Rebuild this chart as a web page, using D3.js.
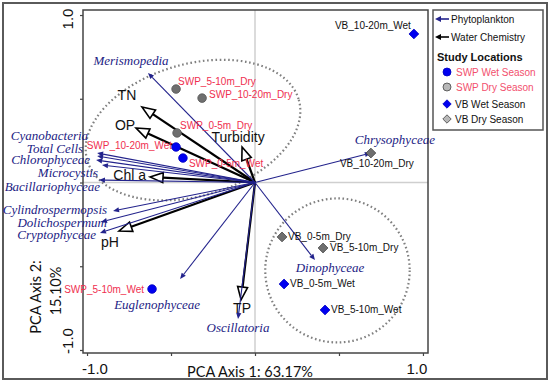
<!DOCTYPE html>
<html>
<head>
<meta charset="utf-8">
<script src="https://cdn.jsdelivr.net/npm/d3@7"></script>
<style>
  html, body { margin: 0; padding: 0; background: #fff; }
  svg { display: block; }
</style>
</head>
<body>
<svg id="chart" width="550" height="384"></svg>
<script>
// ---------------- DATA ----------------
// Phytoplankton loading vectors (PCA axis 1, axis 2)
const speciesNames = ["Merismopedia", "Cyanobacteria", "Total Cells", "Chlorophyceae", "Microcystis",
  "Bacillariophyceae", "Cylindrospermopsis", "Dolichospermum", "Cryptophyceae", "Euglenophyceae",
  "Oscillatoria", "Chrysophyceae", "Dinophyceae"];
const speciesPC1 = [-0.637, -0.940, -0.940, -0.946, -0.911, -0.929, -0.845, -0.917, -0.923, -0.446, -0.101, 0.690, 0.357];
const speciesPC2 = [0.654, 0.176, 0.158, 0.134, 0.104, 0.015, -0.170, -0.236, -0.301, -0.576, -0.815, 0.176, -0.463];

// Water chemistry loading vectors
const chemNames = ["TN", "OP", "Turbidity", "Chl a", "pH", "TP"];
const chemPC1 = [-0.673, -0.708, -0.077, -0.625, -0.810, -0.083];
const chemPC2 = [0.451, 0.325, 0.212, 0.033, -0.290, -0.701];

// Site scores
const siteNames = ["SWP_10-20m_Wet", "SWP_0-5m_Wet", "SWP_5-10m_Wet",
  "SWP_5-10m_Dry", "SWP_10-20m_Dry", "SWP_0-5m_Dry",
  "VB_10-20m_Wet", "VB_0-5m_Wet", "VB_5-10m_Wet",
  "VB_10-20m_Dry", "VB_0-5m_Dry", "VB_5-10m_Dry"];
const siteGroup = ["SWP Wet Season", "SWP Wet Season", "SWP Wet Season",
  "SWP Dry Season", "SWP Dry Season", "SWP Dry Season",
  "VB Wet Season", "VB Wet Season", "VB Wet Season",
  "VB Dry Season", "VB Dry Season", "VB Dry Season"];
const sitePC1 = [-0.470, -0.429, -0.613, -0.470, -0.315, -0.464, 0.946, 0.173, 0.417, 0.690, 0.161, 0.405];
const sitePC2 = [0.212, 0.146, -0.636, 0.558, 0.504, 0.296, 0.887, -0.606, -0.761, 0.176, -0.325, -0.391];

// Grouping ellipses (centre, radii in axis units, tilt in degrees)
const ellipseCX = [-0.369, 0.491];
const ellipseCY = [0.313, -0.525];
const ellipseRX = [0.655, 0.430];
const ellipseRY = [0.394, 0.430];
const ellipseTilt = [-16, 0];

// Axes
const axisTicks = [-1, -0.5, 0, 0.5, 1];
const axisTickLabels = ["-1.0", "", "", "", "1.0"];
const xTitle = "PCA Axis 1: 63.17%";
const yTitle = ["PCA Axis 2:", "15.10%"];

const legendArrows = ["Phytoplankton", "Water Chemistry"];
const legendTitle = "Study Locations";
const legendGroups = ["SWP Wet Season", "SWP Dry Season", "VB Wet Season", "VB Dry Season"];

// ---------------- LAYOUT / STYLE ----------------
const NAVY = "#23238c", NAVY_TXT = "#1c1c84", RED = "#ef2f4f", RED_LEG = "#f2506d";
const groupStyle = {
  "SWP Wet Season": {shape: "circle", fill: "#0000f0", stroke: "#0000c0", text: RED, legFill: "#0000f0", legText: RED_LEG},
  "SWP Dry Season": {shape: "circle", fill: "#6f6f6f", stroke: "#555", text: RED, legFill: "#b8b8b8", legText: RED_LEG},
  "VB Wet Season": {shape: "diamond", fill: "#0000f0", stroke: "#0000c0", text: "#111", legFill: "#0000f0", legText: "#111"},
  "VB Dry Season": {shape: "diamond", fill: "#6f6f6f", stroke: "#444", text: "#111", legFill: "#b8b8b8", legText: "#111"}
};
// label offsets (pixels from the mark end)
const speciesLabelPos = {
  "Merismopedia": ["middle", -17, -12], "Cyanobacteria": ["end", -9, -17], "Total Cells": ["end", -14, -7],
  "Chlorophyceae": ["end", -6, 0], "Microcystis": ["end", -4, 8], "Bacillariophyceae": ["end", 1, 7],
  "Cylindrospermopsis": ["end", -6, -1], "Dolichospermum": ["end", 6, 1], "Cryptophyceae": ["end", -4, 2],
  "Euglenophyceae": ["middle", -23, 26], "Oscillatoria": ["middle", 0, 9], "Chrysophyceae": ["middle", 24, -13],
  "Dinophyceae": ["middle", 15, 8]
};
const chemLabelPos = {
  "TN": ["middle", -15, -12], "OP": ["middle", -11, -3], "Turbidity": ["middle", -4, -10],
  "Chl a": ["end", -4, -2], "pH": ["middle", -9, 11], "TP": ["middle", 1, 8]
};
const siteLabelPos = {
  "SWP_10-20m_Wet": ["end", -4, -1], "SWP_0-5m_Wet": ["start", 6, 5], "SWP_5-10m_Wet": ["end", -8, 0],
  "SWP_5-10m_Dry": ["start", 2, -8], "SWP_10-20m_Dry": ["start", 7, -4], "SWP_0-5m_Dry": ["start", 3, -7],
  "VB_10-20m_Wet": ["end", -3, -8], "VB_0-5m_Wet": ["start", 6, 0], "VB_5-10m_Wet": ["start", 6, 0],
  "VB_10-20m_Dry": ["middle", 6, 10], "VB_0-5m_Dry": ["start", 6, 0], "VB_5-10m_Dry": ["start", 7, 0]
};

const plot = {left: 83, right: 428, top: 10, bottom: 353};
const x = d3.scaleLinear().domain([-1.024, 1.030]).range([plot.left, plot.right]);
const y = d3.scaleLinear().domain([-1.018, 1.030]).range([plot.bottom, plot.top]);

const svg = d3.select("#chart");
const SANS = "'Liberation Sans', Arial, sans-serif";
const SERIF = "'Liberation Serif', 'Times New Roman', serif";
const TITLEF = "Lato, 'Open Sans', sans-serif";

// outer frame
svg.append("rect").attr("x", 3).attr("y", 3).attr("width", 544).attr("height", 376)
  .attr("fill", "none").attr("stroke", "#5a5a5a").attr("stroke-width", 2);

// crosshair
svg.append("line").attr("x1", x(0)).attr("x2", x(0)).attr("y1", plot.top).attr("y2", plot.bottom)
  .attr("stroke", "#cfcfcf").attr("stroke-width", 1.5);
svg.append("line").attr("x1", plot.left).attr("x2", plot.right).attr("y1", y(0)).attr("y2", y(0))
  .attr("stroke", "#cfcfcf").attr("stroke-width", 1.5);

// axes
const xAxis = d3.axisBottom(x).tickValues(axisTicks).tickSize(3).tickFormat(() => "");
const yAxis = d3.axisLeft(y).tickValues(axisTicks).tickSize(3).tickFormat(() => "");
const gx = svg.append("g").attr("transform", `translate(0,${plot.bottom})`).call(xAxis);
const gy = svg.append("g").attr("transform", `translate(${plot.left},0)`).call(yAxis);
[gx, gy].forEach(g => {
  g.select(".domain").remove();
  g.selectAll(".tick line").attr("stroke", "#444").attr("stroke-width", 1.2);
});
// plot box
svg.append("rect").attr("x", plot.left).attr("y", plot.top)
  .attr("width", plot.right - plot.left).attr("height", plot.bottom - plot.top)
  .attr("fill", "none").attr("stroke", "#444").attr("stroke-width", 1.5);

// tick labels
const xLabOff = [8, 0, 0, 0, -6];
axisTicks.forEach((t, i) => {
  if (!axisTickLabels[i]) return;
  svg.append("text").attr("x", x(t) + xLabOff[i]).attr("y", 374)
    .attr("text-anchor", "middle").attr("font-family", SANS).attr("font-size", 15).attr("fill", "#111")
    .text(axisTickLabels[i]);
});
const yLabOff = [-9, 0, 0, 0, 4];
axisTicks.forEach((t, i) => {
  if (!axisTickLabels[i]) return;
  const cx = 73 + (i === 0 ? 0 : 0), cy = y(t) + yLabOff[i];
  svg.append("text").attr("transform", `translate(${cx},${cy}) rotate(-90)`)
    .attr("text-anchor", "middle").attr("font-family", SANS).attr("font-size", 15).attr("fill", "#111")
    .text(axisTickLabels[i]);
});

// axis titles
svg.append("text").attr("x", 250).attr("y", 377).attr("text-anchor", "middle")
  .attr("font-family", TITLEF).attr("font-size", 14.5).attr("fill", "#111").text(xTitle);
svg.append("text").attr("transform", `translate(41,297) rotate(-90)`).attr("text-anchor", "middle")
  .attr("font-family", TITLEF).attr("font-size", 14.5).attr("fill", "#111").text(yTitle[0]);
svg.append("text").attr("transform", `translate(61,291) rotate(-90)`).attr("text-anchor", "middle")
  .attr("font-family", TITLEF).attr("font-size", 14.5).attr("fill", "#111").text(yTitle[1]);

// ellipses
const pxPerX = x(1) - x(0), pxPerY = y(0) - y(1);
ellipseCX.forEach((cx, i) => {
  svg.append("ellipse")
    .attr("transform", `translate(${x(cx)},${y(ellipseCY[i])}) rotate(${ellipseTilt[i]})`)
    .attr("rx", ellipseRX[i] * pxPerX).attr("ry", ellipseRY[i] * pxPerY)
    .attr("fill", "none").attr("stroke", "#808080").attr("stroke-width", 2.2)
    .attr("stroke-dasharray", "1.6 2.6");
});

const ox = x(0), oy = y(0);
function headPts(tx, ty, len, hw) {
  const a = Math.atan2(ty - oy, tx - ox);
  const bx = tx - len * Math.cos(a), by = ty - len * Math.sin(a);
  const px = -Math.sin(a) * hw, py = Math.cos(a) * hw;
  return {bx, by, pts: [[tx, ty], [bx + px, by + py], [bx - px, by - py]]};
}

// water chemistry arrows
const chemG = svg.append("g");
chemNames.forEach((n, i) => {
  const tx = x(chemPC1[i]), ty = y(chemPC2[i]);
  const h = headPts(tx, ty, 13, 5);
  chemG.append("line").attr("x1", ox).attr("y1", oy).attr("x2", h.bx).attr("y2", h.by)
    .attr("stroke", "#000").attr("stroke-width", 2.2);
  chemG.append("polygon").attr("points", h.pts.map(p => p.join(",")).join(" "))
    .attr("fill", "#fff").attr("stroke", "#000").attr("stroke-width", 1.6).attr("stroke-linejoin", "miter");
});

// phytoplankton arrows
const spG = svg.append("g");
speciesNames.forEach((n, i) => {
  const tx = x(speciesPC1[i]), ty = y(speciesPC2[i]);
  const h = headPts(tx, ty, 6, 2.6);
  spG.append("line").attr("x1", ox).attr("y1", oy).attr("x2", h.bx).attr("y2", h.by)
    .attr("stroke", NAVY).attr("stroke-width", 1.1);
  spG.append("polygon").attr("points", h.pts.map(p => p.join(",")).join(" ")).attr("fill", NAVY);
});

// chem labels
chemNames.forEach((n, i) => {
  const p = chemLabelPos[n];
  svg.append("text").attr("x", x(chemPC1[i]) + p[1]).attr("y", y(chemPC2[i]) + p[2]).attr("dy", "0.35em")
    .attr("text-anchor", p[0]).attr("font-family", SANS).attr("font-size", 14).attr("fill", "#111").text(n);
});
// species labels
speciesNames.forEach((n, i) => {
  const p = speciesLabelPos[n];
  svg.append("text").attr("x", x(speciesPC1[i]) + p[1]).attr("y", y(speciesPC2[i]) + p[2]).attr("dy", "0.33em")
    .attr("text-anchor", p[0]).attr("font-family", SERIF).attr("font-style", "italic")
    .attr("font-size", 13).attr("fill", NAVY_TXT).text(n);
});

// site points
function drawSymbol(g, shape, cx, cy, r, fill, stroke) {
  if (shape === "circle") {
    g.append("circle").attr("cx", cx).attr("cy", cy).attr("r", r).attr("fill", fill).attr("stroke", stroke).attr("stroke-width", 0.8);
  } else {
    const s = r + 0.6;
    g.append("polygon").attr("points", `${cx},${cy - s} ${cx + s},${cy} ${cx},${cy + s} ${cx - s},${cy}`)
      .attr("fill", fill).attr("stroke", stroke).attr("stroke-width", 0.8);
  }
}
const siteG = svg.append("g");
siteNames.forEach((n, i) => {
  const st = groupStyle[siteGroup[i]];
  const cx = x(sitePC1[i]), cy = y(sitePC2[i]);
  const p = siteLabelPos[n];
  siteG.append("text").attr("x", cx + p[1]).attr("y", cy + p[2]).attr("dy", "0.35em")
    .attr("text-anchor", p[0]).attr("font-family", SANS).attr("font-size", 10).attr("fill", st.text).text(n);
  drawSymbol(siteG, st.shape, cx, cy, 4.3, st.fill, st.stroke);
});

// legend
const leg = svg.append("g");
leg.append("rect").attr("x", 433).attr("y", 10).attr("width", 110).attr("height", 120)
  .attr("fill", "#fff").attr("stroke", "#555").attr("stroke-width", 1.5);
const legArrowCol = [NAVY, "#000"];
legendArrows.forEach((n, i) => {
  const yy = 19 + i * 18;
  leg.append("line").attr("x1", 449).attr("x2", 440).attr("y1", yy).attr("y2", yy)
    .attr("stroke", legArrowCol[i]).attr("stroke-width", 1.6);
  leg.append("polygon").attr("points", `435,${yy} 441,${yy - 3} 441,${yy + 3}`).attr("fill", legArrowCol[i]);
  leg.append("text").attr("x", 451).attr("y", yy).attr("dy", "0.35em").attr("font-family", SANS)
    .attr("font-size", 10).attr("fill", "#111").text(n);
});
leg.append("text").attr("x", 437).attr("y", 57).attr("dy", "0.35em").attr("font-family", SANS)
  .attr("font-size", 11).attr("font-weight", "bold").attr("fill", "#111").text(legendTitle);
const legY = [72, 87, 104, 119];
legendGroups.forEach((g, i) => {
  const st = groupStyle[g];
  drawSymbol(leg, st.shape, 447, legY[i], st.shape === "circle" ? 4 : 3.6, st.legFill, i === 1 || i === 3 ? "#444" : st.stroke);
  leg.append("text").attr("x", st.shape === "circle" ? 456 : 455).attr("y", legY[i]).attr("dy", "0.35em")
    .attr("font-family", SANS).attr("font-size", 10).attr("fill", st.legText).text(g);
});
</script>
</body>
</html>
